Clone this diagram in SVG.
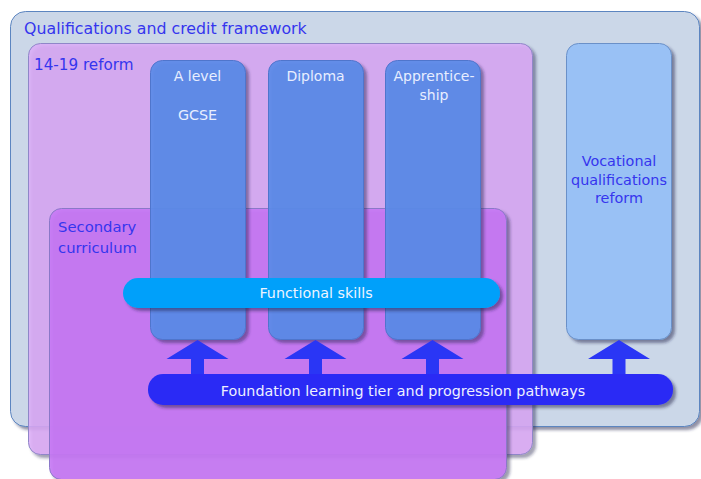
<svg xmlns="http://www.w3.org/2000/svg" width="701" height="479" viewBox="0 0 701 479">
<defs>
<filter id="sh" x="-10%" y="-10%" width="130%" height="130%">
<feDropShadow dx="3" dy="3" stdDeviation="1.8" flood-color="#20204a" flood-opacity="0.5"/>
</filter>
<style>
text{font-family:"DejaVu Sans","Verdana",sans-serif;}
.lab{fill:#3535ee;font-size:15.2px;}
.col{fill:#5b8be8;fill-opacity:0.93;stroke:#4f74cc;stroke-width:1;}
.ct{fill:#e8eeff;font-size:14px;text-anchor:middle;}
.arr{fill:#2a36f5;}
</style>
</defs>
<rect width="701" height="479" fill="#ffffff"/>
<g id="qcf">
<rect x="10.5" y="11.5" width="689" height="415" rx="15" fill="#cbd7e8" stroke="#5c85c0" filter="url(#sh)"/>
<text class="lab" x="24" y="34" style="font-size:15.8px">Qualifications and credit framework</text>
</g>
<g id="reform1419">
<rect x="28.5" y="43.5" width="504" height="411" rx="12" fill="#dcabf8" fill-opacity="0.83" stroke="#8f86c8" filter="url(#sh)"/>
<text class="lab" x="34" y="69.5">14-19 reform</text>
</g>
<g id="vocational">
<rect x="566.5" y="43.5" width="105" height="296" rx="12" fill="#99c1f5" stroke="#6a90c8" filter="url(#sh)"/>
<text class="lab" text-anchor="middle" style="font-size:14.4px"><tspan x="619" y="166">Vocational</tspan><tspan x="619" y="185">qualifications</tspan><tspan x="619" y="203">reform</tspan></text>
</g>
<g id="secondary">
<rect x="49.5" y="208.5" width="457" height="271" rx="12" fill="#c678f5" fill-opacity="0.9" stroke="#8a78c8" filter="url(#sh)"/>
<text class="lab" style="font-size:14.8px"><tspan x="58" y="232">Secondary</tspan><tspan x="58" y="253">curriculum</tspan></text>
</g>
<g id="alevel">
<rect class="col" x="150.5" y="60.5" width="95" height="279" rx="12" filter="url(#sh)"/>
<text class="ct" x="197.5" y="81">A level</text>
<text class="ct" x="197.5" y="120" style="font-size:14.3px">GCSE</text>
</g>
<g id="diploma">
<rect class="col" x="268.5" y="60.5" width="95" height="279" rx="12" filter="url(#sh)"/>
<text class="ct" x="315.5" y="81">Diploma</text>
</g>
<g id="apprenticeship">
<rect class="col" x="385.5" y="60.5" width="95" height="279" rx="12" filter="url(#sh)"/>
<text class="ct"><tspan x="434" y="81">Apprentice-</tspan><tspan x="434" y="100">ship</tspan></text>
</g>
<g id="functional">
<rect x="123" y="278" width="377" height="30" rx="15" fill="#00a0fa" filter="url(#sh)"/>
<text class="ct" x="316" y="298" style="font-size:14.3px;fill:#eef4ff">Functional skills</text>
</g>
<g id="connectors">
<polygon class="arr" points="197.5,340 228.5,359 204,359 204,380 191,380 191,359 166.5,359"/>
<polygon class="arr" points="315.5,340 346.5,359 322,359 322,380 309,380 309,359 284.5,359"/>
<polygon class="arr" points="432.5,340 463.5,359 439,359 439,380 426,380 426,359 401.5,359"/>
<polygon class="arr" points="619,340 650,359 625.5,359 625.5,380 612.5,380 612.5,359 588,359"/>
</g>
<g id="foundation">
<rect x="148" y="374" width="525" height="31" rx="15" fill="#2a2bf5" filter="url(#sh)"/>
<text class="ct" x="403" y="396" style="font-size:14.3px;fill:#eef0ff">Foundation learning tier and progression pathways</text>
</g>
</svg>
